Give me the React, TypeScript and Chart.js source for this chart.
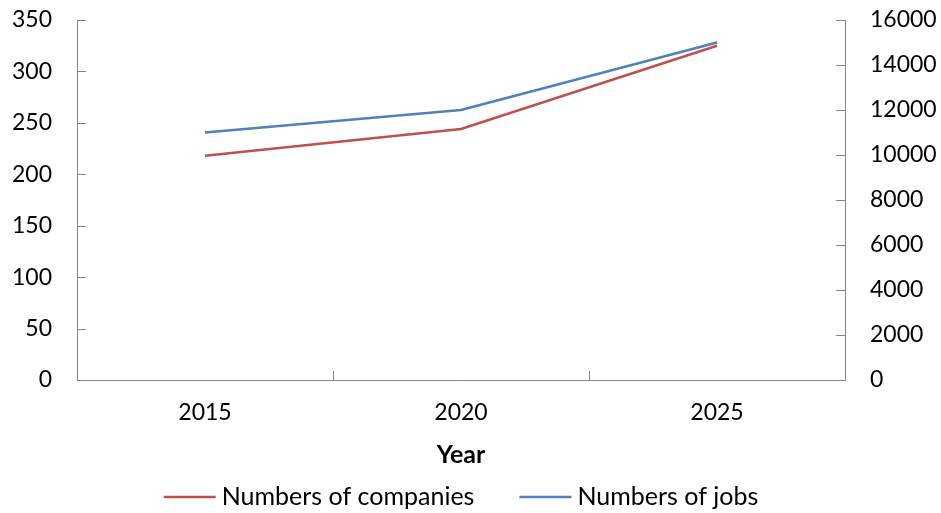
import React, { useEffect, useRef } from "react";
import { Chart, registerables } from "chart.js";

Chart.register(...registerables);

// Data
const years = ["2015", "2020", "2025"];
const companies = [218, 244, 325];
const jobs = [11000, 12000, 15000];

// Axis ranges: [min, max, step]
const companyAxis = [0, 350, 50];
const jobAxis = [0, 16000, 2000];

const seriesNames = ["Numbers of companies", "Numbers of jobs"];
const seriesColors = ["#C0504D", "#4F81BD"];
const xTitle = "Year";

const FONT = "Lato, 'Open Sans', sans-serif";
const TICK_SIZE = 23;
const TEXT_SIZE = 25;
const AXIS_COLOR = "#868686";
const TICK_LEN = 9;

// Tick marks drawn on the inner side of each axis line
const innerTicks = {
  id: "innerTicks",
  afterDraw(chart: any) {
    const { ctx, chartArea } = chart;
    const { left, right, bottom } = chartArea;
    ctx.save();
    ctx.strokeStyle = AXIS_COLOR;
    ctx.lineWidth = 1;
    ctx.beginPath();
    const y = chart.scales.y;
    y.ticks.forEach((_: any, i: number) => {
      const p = Math.round(y.getPixelForTick(i)) + 0.5;
      ctx.moveTo(left, p);
      ctx.lineTo(left + TICK_LEN, p);
    });
    const y1 = chart.scales.y1;
    y1.ticks.forEach((_: any, i: number) => {
      const p = Math.round(y1.getPixelForTick(i)) + 0.5;
      ctx.moveTo(right, p);
      ctx.lineTo(right - TICK_LEN, p);
    });
    const x = chart.scales.x;
    const n = x.ticks.length;
    const w = (right - left) / n;
    for (let i = 1; i < n; i++) {
      const p = Math.round(left + w * i) + 0.5;
      ctx.moveTo(p, bottom);
      ctx.lineTo(p, bottom - TICK_LEN);
    }
    ctx.stroke();
    ctx.restore();
  },
};

// Legend with line samples, centred under the plot
const lineLegend = {
  id: "lineLegend",
  afterDraw(chart: any) {
    const { ctx, chartArea } = chart;
    const lineLen = 52;
    const gap = 6;
    const spacing = 45;
    const y = chart.height - 16;
    ctx.save();
    ctx.font = `${TEXT_SIZE}px ${FONT}`;
    ctx.textBaseline = "middle";
    ctx.textAlign = "left";
    const widths = seriesNames.map((s) => ctx.measureText(s).width);
    const total =
      widths.reduce((a, w) => a + lineLen + gap + w, 0) + spacing * (seriesNames.length - 1);
    let x = (chartArea.left + chartArea.right) / 2 - total / 2;
    seriesNames.forEach((name, i) => {
      ctx.strokeStyle = seriesColors[i];
      ctx.lineWidth = 2.5;
      ctx.beginPath();
      ctx.moveTo(x, y);
      ctx.lineTo(x + lineLen, y);
      ctx.stroke();
      ctx.fillStyle = "#000";
      ctx.fillText(name, x + lineLen + gap, y);
      x += lineLen + gap + widths[i] + spacing;
    });
    ctx.restore();
  },
};

export default function App() {
  const canvasRef = useRef<HTMLCanvasElement | null>(null);

  useEffect(() => {
    const canvas = canvasRef.current;
    if (!canvas) return;
    const tickFont = { family: FONT, size: TICK_SIZE };
    const fitY = (width: number) => (s: any) => {
      s.width = width;
      s.paddingTop = 0;
      s.paddingBottom = 0;
    };
    const chart = new Chart(canvas, {
      type: "line",
      data: {
        labels: years,
        datasets: [
          {
            label: seriesNames[0],
            data: companies,
            borderColor: seriesColors[0],
            backgroundColor: seriesColors[0],
            borderWidth: 2.5,
            pointRadius: 0,
            tension: 0,
            yAxisID: "y",
          },
          {
            label: seriesNames[1],
            data: jobs,
            borderColor: seriesColors[1],
            backgroundColor: seriesColors[1],
            borderWidth: 2.5,
            pointRadius: 0,
            tension: 0,
            yAxisID: "y1",
          },
        ],
      },
      options: {
        responsive: false,
        animation: false,
        devicePixelRatio: 1,
        layout: { padding: { top: 20, left: 0, right: 0, bottom: 40 } },
        plugins: {
          legend: { display: false },
          tooltip: { enabled: false },
        },
        scales: {
          x: {
            offset: true,
            grid: { display: false, drawTicks: false },
            border: { display: true, color: AXIS_COLOR, width: 1 },
            ticks: { color: "#000", font: tickFont, padding: 19, maxRotation: 0 },
            title: {
              display: true,
              text: xTitle,
              color: "#000",
              font: { family: FONT, size: TEXT_SIZE, weight: "bold" },
              padding: { top: 0, bottom: 3 },
            },
            afterFit: (s: any) => {
              s.height = 93;
              s.paddingLeft = 0;
              s.paddingRight = 0;
            },
          },
          y: {
            position: "left",
            min: companyAxis[0],
            max: companyAxis[1],
            grid: { display: false, drawTicks: false },
            border: { display: true, color: AXIS_COLOR, width: 1 },
            ticks: { stepSize: companyAxis[2], color: "#000", font: tickFont, padding: 25 },
            afterFit: fitY(77),
          },
          y1: {
            position: "right",
            min: jobAxis[0],
            max: jobAxis[1],
            grid: { display: false, drawTicks: false },
            border: { display: true, color: AXIS_COLOR, width: 1 },
            ticks: {
              stepSize: jobAxis[2],
              color: "#000",
              font: tickFont,
              padding: 25,
              callback: (v: any) => String(v),
            },
            afterFit: fitY(96),
          },
        },
      },
      plugins: [innerTicks, lineLegend],
    });
    return () => chart.destroy();
  }, []);

  return (
    <div style={{ position: "fixed", left: 0, top: 0, width: 941, height: 513, background: "#fff" }}>
      <canvas ref={canvasRef} width={941} height={513} style={{ width: 941, height: 513 }} />
    </div>
  );
}
